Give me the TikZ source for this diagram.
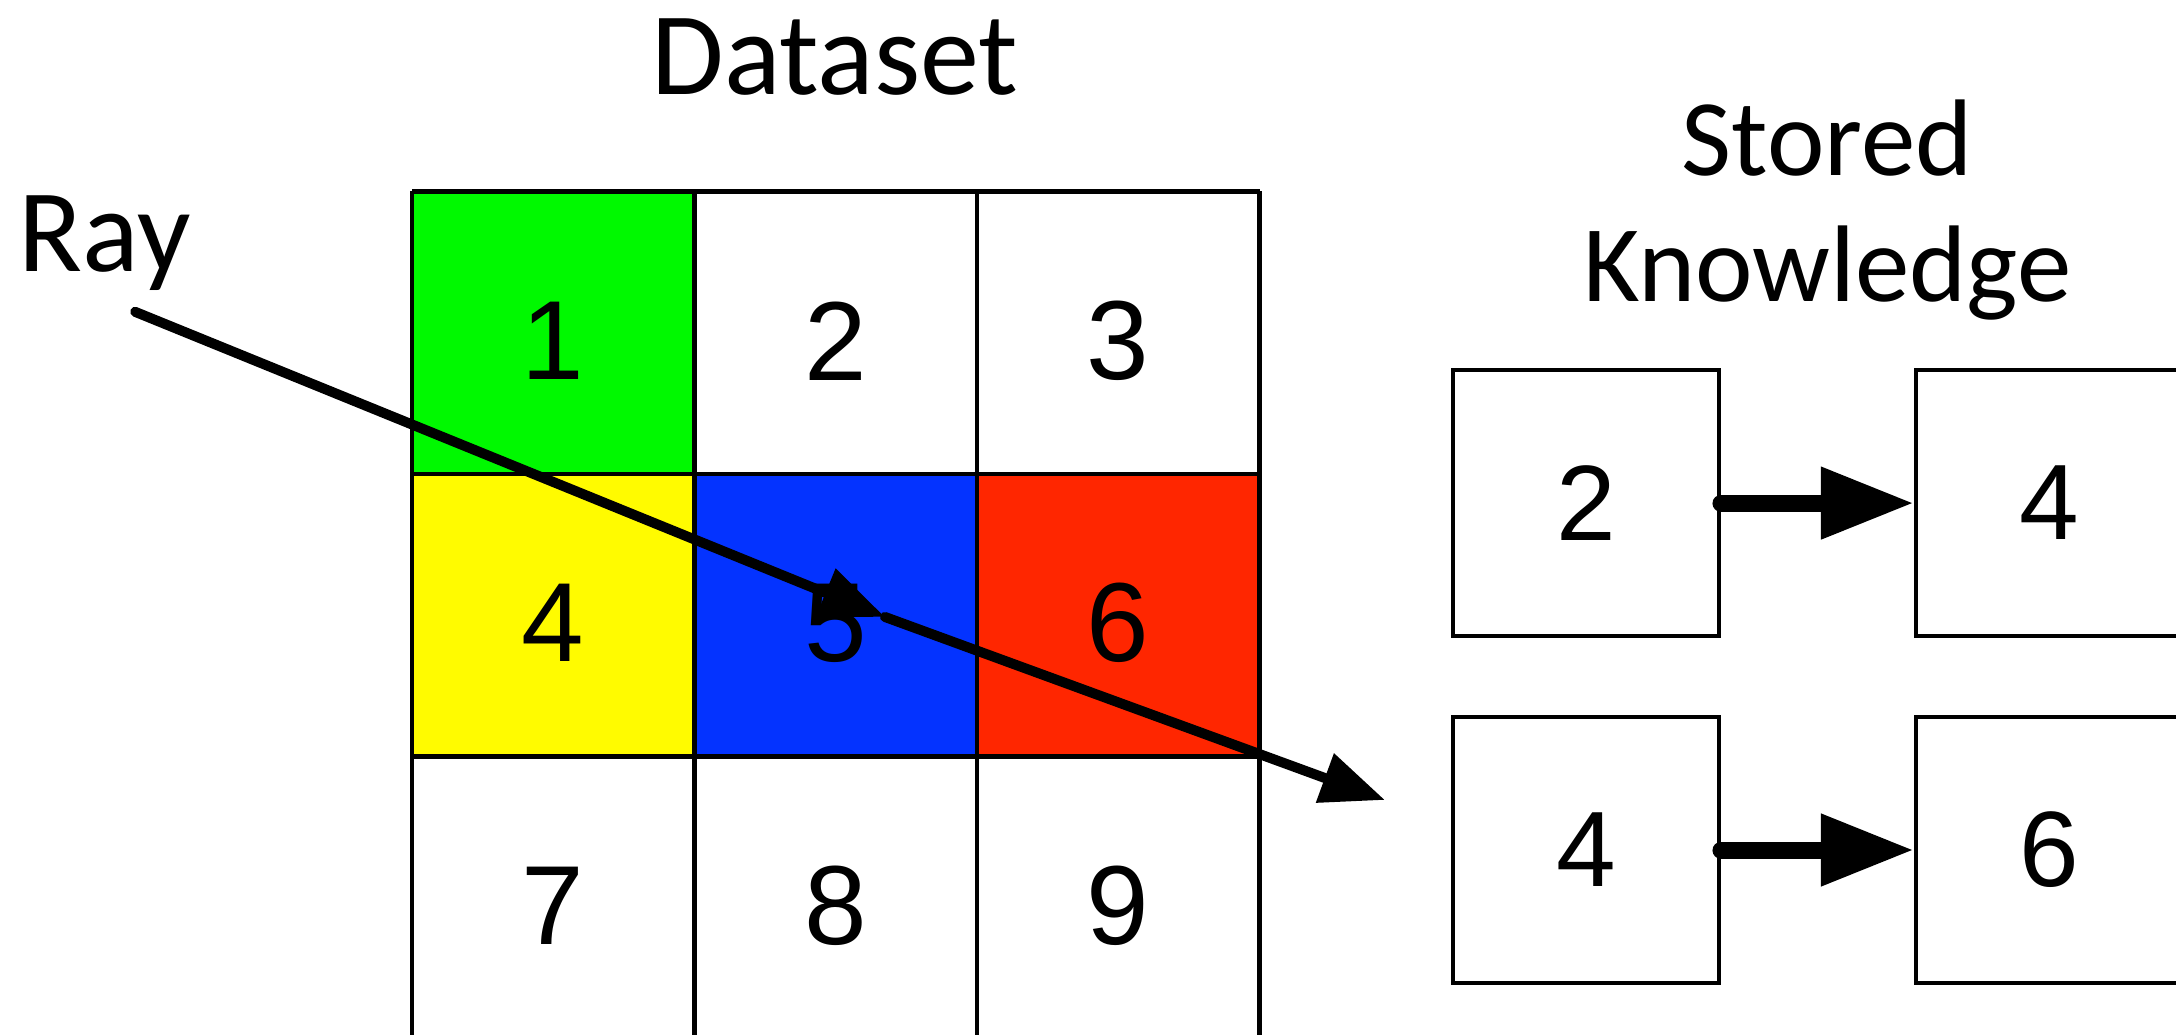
\documentclass[tikz,border=0pt]{standalone}
\usepackage{fontspec}
\setmainfont{Carlito}
\newfontfamily\digitfont{Liberation Sans}
\usetikzlibrary{arrows.meta}
\definecolor{spring}{HTML}{00F900}
\definecolor{lemon}{HTML}{FFFB00}
\definecolor{blueberry}{HTML}{0433FF}
\definecolor{maraschino}{HTML}{FF2600}

\begin{document}
\begin{tikzpicture}[x=2.825cm,y=2.825cm,
  cell/.style={yshift=-0.08cm,font=\digitfont\fontsize{32}{38}\selectfont},
  known/.style={draw,line width=1.2pt,minimum size=2.655cm,inner sep=0pt,font=\digitfont\fontsize{30.5}{36}\selectfont},
  title/.style={anchor=base,inner sep=0pt,font=\fontsize{33.6}{40}\selectfont},
  ray/.style={line width=0.1cm,line cap=round,-{Triangle[length=0.64cm,width=0.5cm]}},
  link/.style={line width=0.17cm,line cap=round,-{Triangle[length=0.93cm,width=0.68cm]}}]
\useasboundingbox (-1.4584,0.0142) rectangle (6.2442,3.6779);
\fill[spring] (0,2) rectangle (1,3);
\fill[lemon] (0,1) rectangle (1,2);
\fill[blueberry] (1,1) rectangle (2,2);
\fill[maraschino] (2,1) rectangle (3,2);
\draw[line width=1.2pt,step=1] (0,0) grid (3,3);
\node[cell] (c1) at (0.5,2.5) {1};
\node[cell] (c2) at (1.5,2.5) {2};
\node[cell] (c3) at (2.5,2.5) {3};
\node[cell] (c4) at (0.5,1.5) {4};
\node[cell] (c5) at (1.5,1.5) {5};
\node[cell] (c6) at (2.5,1.5) {6};
\node[cell] (c7) at (0.5,0.5) {7};
\node[cell] (c8) at (1.5,0.5) {8};
\node[cell] (c9) at (2.5,0.5) {9};
\node[title] (dataset) at (1.497,3.342) {Dataset};
\node[title] (raylabel) at (-1.088,2.715) {Ray};
\node[title,font=\fontsize{31}{37}\selectfont] (stored) at (5.01,3.058) {Stored};
\node[title,font=\fontsize{31}{37}\selectfont] (knowledge) at (5.01,2.612) {Knowledge};
\node[known] (keyA) at (4.156,1.897) {2};
\node[known] (valA) at (5.794,1.897) {4};
\node[known] (keyB) at (4.156,0.669) {4};
\node[known] (valB) at (5.794,0.669) {6};
\draw[link] (keyA.east) -- (valA.west);
\draw[link] (keyB.east) -- (valB.west);
\coordinate (raystart) at (-0.980,2.574);
\coordinate (hit) at (1.674,1.494);
\coordinate (rayend) at (3.444,0.846);
\draw[ray] (raystart) -- (hit);
\draw[ray] (hit) -- (rayend);
\end{tikzpicture}
\end{document}
